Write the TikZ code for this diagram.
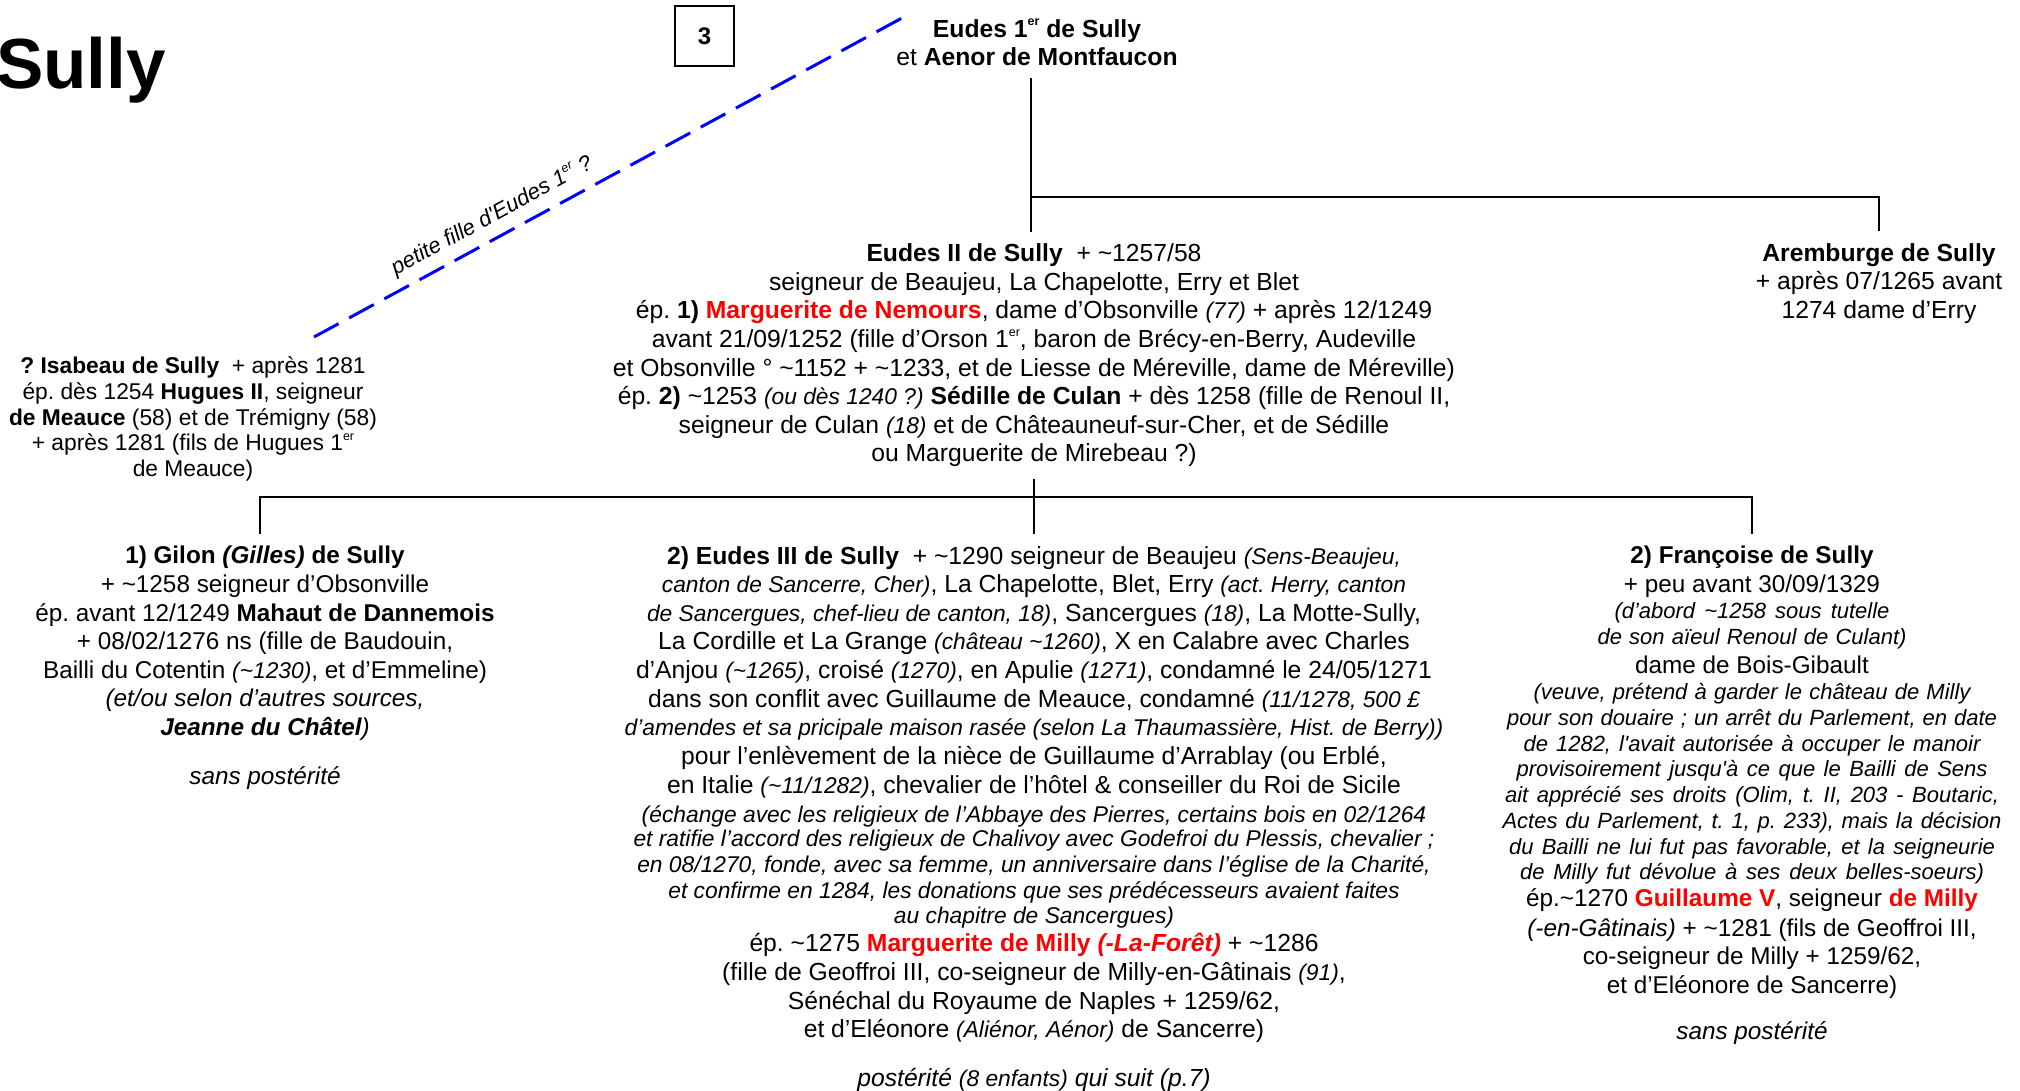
\documentclass[tikz,border=0pt]{standalone}
\usepackage{amsmath}
\usepackage{fontspec}
\setmainfont{Liberation Sans}
\usetikzlibrary{calc}
\definecolor{rouge}{RGB}{255,0,0}
\definecolor{bleu}{RGB}{0,0,255}
\newcommand{\ca}{\textasciitilde}
\newcommand{\er}{\raisebox{0.45em}{\fontsize{12.5}{12.5}\selectfont er}}
\newcommand{\smit}[1]{{\fontsize{22.8}{25}\selectfont\itshape #1}}
\newcommand{\fit}[2]{{\fontsize{22}{25}\selectfont\itshape\makebox[#1pt][s]{#2}}}
\newcommand{\rg}[1]{\textcolor{rouge}{\textbf{#1}}}

\begin{document}
\frenchspacing
\begin{tikzpicture}[x=1pt, y=-1pt,
		pers/.style={align=center, anchor=north, inner xsep=0pt, inner ysep=12pt, font=\fontsize{24.7}{28.6}\selectfont},
		tree/.style={line width=2pt},
		lien/.style={draw=bleu, line width=3pt, dash pattern=on 28pt off 12pt}]
		\useasboundingbox (0,0) rectangle (2020,1090);
		\node[anchor=base west, inner sep=0pt, font=\fontsize{71}{80}\selectfont\bfseries] (T) at (-4,88) {Sully};
		\node[draw, line width=1.5pt, minimum width=59pt, minimum height=60pt, inner sep=0pt, font=\fontsize{24}{28}\selectfont\bfseries] (P) at (704.5,36) {3};
		\node[pers] (E1) at (1037,7) {\textbf{Eudes 1\er{} de Sully}\\et \textbf{Aenor de Montfaucon}};
		\node[pers] (A) at (1879,231) {\textbf{Aremburge de Sully}\\+ après 07/1265 avant\\1274 dame d’Erry};
		\node[pers] (E2) at (1034,231.5) {\textbf{Eudes II de Sully}\ \ + \ca1257/58\\
			seigneur de Beaujeu, La Chapelotte, Erry et Blet\\
			ép. \textbf{1)} \rg{Marguerite de Nemours}, dame d’Obsonville \smit{(77)} + après 12/1249\\
			avant 21/09/1252 (fille d’Orson 1\er, baron de Brécy-en-Berry, Audeville\\
			et Obsonville ° \ca1152 + \ca1233, et de Liesse de Méreville, dame de Méreville)\\
			ép. \textbf{2)} \ca1253 \smit{(ou dès 1240 ?)} \textbf{Sédille de Culan} + dès 1258 (fille de Renoul II,\\
			seigneur de Culan \smit{(18)} et de Châteauneuf-sur-Cher, et de Sédille\\
			ou Marguerite de Mirebeau ?)};
		\node[pers, font=\fontsize{22.8}{25.8}\selectfont] (I) at (193,344.5) {\textbf{? Isabeau de Sully}\ \ + après 1281\\
			ép. dès 1254 \textbf{Hugues II}, seigneur\\
			\textbf{de Meauce} (58) et de Trémigny (58)\\
			+ après 1281 (fils de Hugues 1\er\\
			de Meauce)};
		\node[pers, font=\fontsize{24.3}{28.6}\selectfont] (G) at (265,534) {\textbf{1) Gilon \textit{(Gilles)} de Sully}\\
			+ \ca1258 seigneur d’Obsonville\\
			ép. avant 12/1249 \textbf{Mahaut de Dannemois}\\
			+ 08/02/1276 ns (fille de Baudouin,\\
			Bailli du Cotentin \smit{(\ca1230)}, et d’Emmeline)\\
			\textit{(et/ou selon d’autres sources,}\\
			\textit{\textbf{Jeanne du Châtel})}\\[20pt]
			\textit{sans postérité}};
		\node[pers] (E3) at (1034,534) {\textbf{2) Eudes III de Sully}\ \ + \ca1290 seigneur de Beaujeu \smit{(Sens-Beaujeu,}\\
			\smit{canton de Sancerre, Cher)}, La Chapelotte, Blet, Erry \smit{(act. Herry, canton}\\
			\smit{de Sancergues, chef-lieu de canton, 18)}, Sancergues \smit{(18)}, La Motte-Sully,\\
			La Cordille et La Grange \smit{(château \ca1260)}, X en Calabre avec Charles\\
			d’Anjou \smit{(\ca1265)}, croisé \smit{(1270)}, en Apulie \smit{(1271)}, condamné le 24/05/1271\\
			dans son conflit avec Guillaume de Meauce, condamné \smit{(11/1278, 500 £}\\
			\smit{d’amendes et sa pricipale maison rasée (selon La Thaumassière, Hist. de Berry))}\\[0.6pt]
			pour l’enlèvement de la nièce de Guillaume d’Arrablay (ou Erblé,\\
			en Italie \smit{(\ca11/1282)}, chevalier de l’hôtel \& conseiller du Roi de Sicile\\
			\smit{(échange avec les religieux de l’Abbaye des Pierres, certains bois en 02/1264}\\[-4pt]
			\smit{et ratifie l’accord des religieux de Chalivoy avec Godefroi du Plessis, chevalier ;}\\[-2.6pt]
			\smit{en 08/1270, fonde, avec sa femme, un anniversaire dans l’église de la Charité,}\\[-2.6pt]
			\smit{et confirme en 1284, les donations que ses prédécesseurs avaient faites}\\[-4pt]
			\smit{au chapitre de Sancergues)}\\
			ép. \ca1275 \rg{Marguerite de Milly \textit{(-La-Forêt)}} + \ca1286\\
			(fille de Geoffroi III, co-seigneur de Milly-en-Gâtinais \smit{(91)},\\
			Sénéchal du Royaume de Naples + 1259/62,\\
			et d’Eléonore \smit{(Aliénor, Aénor)} de Sancerre)\\[20pt]
			\textit{postérité \smit{(8 enfants)} qui suit (p.7)}};
		\node[pers, font=\fontsize{24.3}{28.6}\selectfont] (F) at (1752,534) {\textbf{2) Françoise de Sully}\\
			+ peu avant 30/09/1329\\[-2.6pt]
			\fit{275}{(d’abord \ca1258 sous tutelle}\\[-2.6pt]
			\fit{309}{de son aïeul Renoul de Culant)}\\
			dame de Bois-Gibault\\[-2.6pt]
			\fit{437}{(veuve, prétend à garder le château de Milly}\\[-2.6pt]
			\fit{490}{pour son douaire ; un arrêt du Parlement, en date}\\[-2.6pt]
			\fit{457}{de 1282, l\textquotesingle avait autorisée à occuper le manoir}\\[-3.6pt]
			\fit{471}{provisoirement jusqu\textquotesingle à ce que le Bailli de Sens}\\[-2.6pt]
			\fit{494}{ait apprécié ses droits (Olim, t. II, 203 - Boutaric,}\\[-2.6pt]
			\fit{499}{Actes du Parlement, t. 1, p. 233), mais la décision}\\[-2.6pt]
			\fit{486}{du Bailli ne lui fut pas favorable, et la seigneurie}\\[-3.6pt]
			\fit{464}{de Milly fut dévolue à ses deux belles-soeurs)}\\[-1.6pt]
			ép.\ca1270 \rg{Guillaume V}, seigneur \rg{de Milly}\\[1.4pt]
			\textit{(-en-Gâtinais)} + \ca1281 (fils de Geoffroi III,\\
			co-seigneur de Milly + 1259/62,\\
			et d’Eléonore de Sancerre)\\[18pt]
			\textit{sans postérité}};
		\coordinate (B1) at (1031,197);
		\coordinate (B2) at (1034,497);
		\coordinate (B3) at (260,497);
		\draw[tree] (E1.south -| B1) -- (E2.north -| B1);
		\draw[tree] (B1) -| (A.north);
		\draw[tree] (E2.south) -- (E3.north);
		\draw[tree] (G.north -| B3) -- (B3) -- (B2) -| (F.north);
		\coordinate (L1) at (314,337);
		\coordinate (L2) at (902,18);
		\draw[lien] (L1) -- node[pos=0.32, sloped, above=9pt, inner sep=0pt, font=\fontsize{22}{26}\selectfont\itshape] (Q) {petite fille d\textquotesingle Eudes 1\er{} ?} (L2);
\end{tikzpicture}
\end{document}
